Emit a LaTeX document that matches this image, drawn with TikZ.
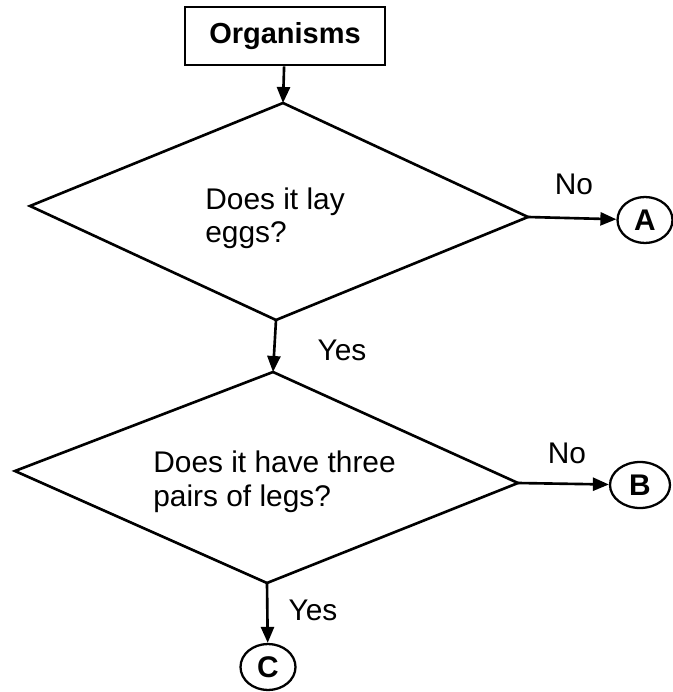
\documentclass[tikz,border=0pt]{standalone}
\usepackage{fontspec}
\setmainfont{Liberation Sans}
\usetikzlibrary{arrows.meta,shapes.geometric}
\tikzset{
  line/.style={line width=1.5pt},
  arr/.style={line, -{Triangle[length=0.32cm,width=0.26cm]}},
  endpt/.style={draw, line width=1.3pt, ellipse, inner sep=0pt, minimum width=1.1cm, minimum height=0.92cm, font=\fontsize{17}{19}\selectfont\bfseries},
  txt/.style={font=\fontsize{17}{18.8}\selectfont, align=left, inner sep=0pt, anchor=base west},
  lbl/.style={font=\fontsize{17}{18.8}\selectfont, inner sep=0pt}
}

\begin{document}
\begin{tikzpicture}[x=0.02cm,y=-0.02cm]
				\useasboundingbox (0,0) rectangle (672,692);
				
				\node[draw, line, minimum width=4cm, minimum height=1.16cm, inner sep=0pt, font=\fontsize{16.5}{19}\selectfont\bfseries] (org) at (285,36) {Organisms};
				
				% first question
				\coordinate (q1t) at (283,103);
				\coordinate (q1l) at (30,206);
				\coordinate (q1b) at (276,320);
				\coordinate (q1r) at (528,217);
				\draw[line, line join=miter] (q1t) -- (q1r) -- (q1b) -- (q1l) -- cycle;
				\node[txt] (q1txt) at (205,243) {Does it lay\\eggs?};
				
				% second question
				\coordinate (q2t) at (273,372);
				\coordinate (q2l) at (15,471);
				\coordinate (q2b) at (267,583);
				\coordinate (q2r) at (518,483);
				\draw[line, line join=miter] (q2t) -- (q2r) -- (q2b) -- (q2l) -- cycle;
				\node[txt] (q2txt) at (153,506) {Does it have three\\pairs of legs?};
				
				\node[endpt] (A) at (645,220) {A};
				\node[endpt, minimum width=1.2cm] (B) at (640,485) {B};
				\node[endpt] (C) at (268,667) {C};
				
				\draw[arr] (org) -- (q1t);
				\draw[arr] (q1b) -- (q2t);
				\draw[arr] (q1r) -- (A);
				\draw[arr] (q2r) -- (B);
				\draw[arr] (q2b) -- (C);
				
				\node[lbl] (no1) at (574,184) {No};
				\node[lbl] (no2) at (567,453) {No};
				\node[lbl] (yes1) at (342,350) {Yes};
				\node[lbl] (yes2) at (313,610) {Yes};
			\end{tikzpicture}
\end{document}
